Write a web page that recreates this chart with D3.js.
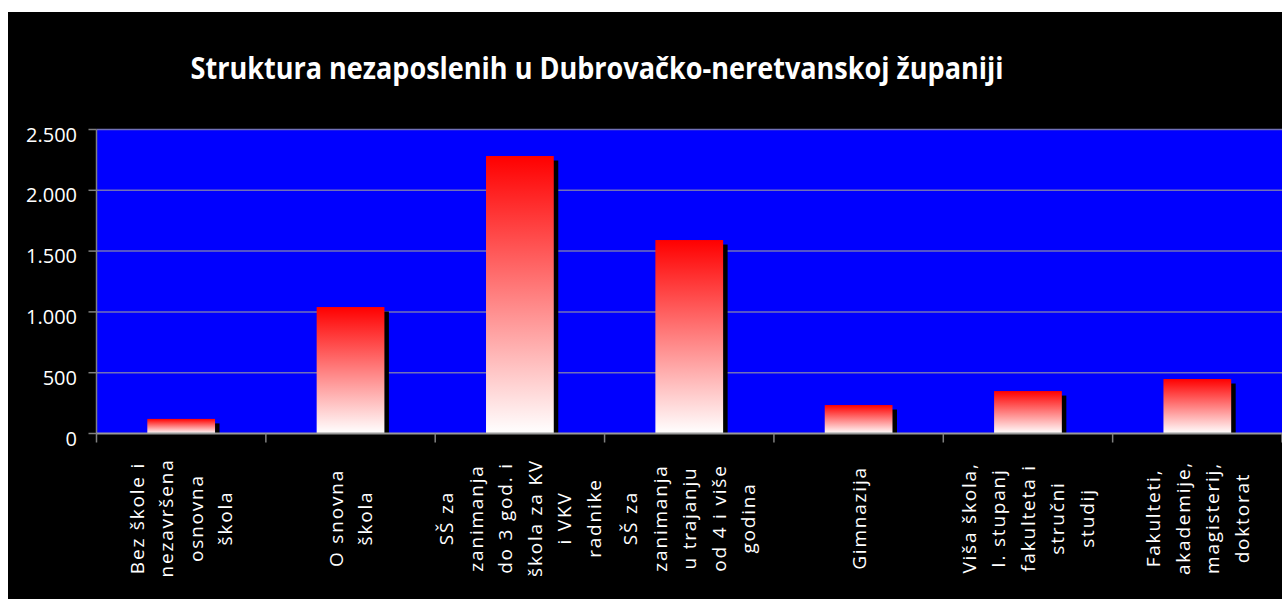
<!DOCTYPE html>
<html>
<head>
<meta charset="utf-8">
<script src="https://cdn.jsdelivr.net/npm/d3@7"></script>
<style>
	html, body { margin: 0; padding: 0; background: #fff; }
	svg { display: block; }
</style>
</head>
<body>
<div id="chart"></div>
<script>
const title = 'Struktura nezaposlenih u Dubrovačko-neretvanskoj županiji';

// label lines for each category, as they wrap in the original
const categories = [
	['Bez škole i', 'nezavršena', 'osnovna', 'škola'],
	['O snovna', 'škola'],
	['SŠ za', 'zanimanja', 'do 3 god. i', 'škola za KV', 'i VKV', 'radnike'],
	['SŠ za', 'zanimanja', 'u trajanju', 'od 4 i više', 'godina'],
	['Gimnazija'],
	['Viša škola,', 'I. stupanj', 'fakulteta i', 'stručni', 'studij'],
	['Fakulteti,', 'akademije,', 'magisterij,', 'doktorat']
];
const values = [120, 1040, 2282, 1591, 234, 349, 448];
const yTicks = [0, 500, 1000, 1500, 2000, 2500];

const chartOptions = {
	width: 1282,
	height: 599,
	plot: {left: 96.5, right: 1282, top: 129.5, bottom: 433.5}
};

const draw = (chartSelector, options) => {
	const {width, height, plot} = options;
	const svg = d3.select(chartSelector)
		.append('svg')
		.attr('width', width)
		.attr('height', height);

	// black canvas with a thin white border top/left
	svg.append('rect')
		.attr('x', 8)
		.attr('y', 12)
		.attr('width', width - 8)
		.attr('height', height - 12)
		.attr('fill', '#000');

	const xScale = d3.scaleBand()
		.domain(d3.range(categories.length))
		.range([plot.left, plot.right])
		.paddingInner(0.6)
		.paddingOuter(0.3);

	const yScale = d3.scaleLinear()
		.domain([0, 2500])
		.range([plot.bottom, plot.top]);

	_addDefs(svg);

	svg.append('rect')
		.attr('x', plot.left)
		.attr('y', plot.top)
		.attr('width', plot.right - plot.left)
		.attr('height', plot.bottom - plot.top)
		.attr('fill', '#0000ff');

	_addGrid({svg, yScale, plot});
	_addBars({svg, xScale, yScale, plot});
	_addAxes({svg, xScale, yScale, plot});
	_addLabels({svg, xScale, yScale, plot});

	svg.append('text')
		.attr('x', 597)
		.attr('y', 79)
		.attr('text-anchor', 'middle')
		.attr('textLength', 813)
		.attr('lengthAdjust', 'spacingAndGlyphs')
		.attr('fill', '#fff')
		.style('font-family', '"Liberation Sans Narrow", "Open Sans", sans-serif')
		.style('font-weight', 'bold')
		.style('font-size', '30px')
		.text(title);
};

const _addDefs = (svg) => {
	const grad = svg.append('defs')
		.append('linearGradient')
		.attr('id', 'barFill')
		.attr('x1', 0).attr('y1', 0)
		.attr('x2', 0).attr('y2', 1);
	grad.append('stop').attr('offset', '0%').attr('stop-color', '#ff0000');
	grad.append('stop').attr('offset', '100%').attr('stop-color', '#ffffff');
};

const _addGrid = ({svg, yScale, plot}) => {
	svg.append('g')
		.selectAll('line')
		.data(yTicks.filter(d => d > 0))
		.enter()
		.append('line')
		.attr('x1', plot.left)
		.attr('x2', plot.right)
		.attr('y1', d => yScale(d))
		.attr('y2', d => yScale(d))
		.attr('stroke', '#7070b8')
		.attr('stroke-width', 1.5);
};

const _addBars = ({svg, xScale, yScale, plot}) => {
	const items = svg.selectAll('.bar')
		.data(values)
		.enter()
		.append('g')
		.attr('class', 'bar');

	// drop shadow
	items.append('rect')
		.attr('x', (d, i) => xScale(i) + 4.5)
		.attr('y', d => yScale(d) + 4.5)
		.attr('width', xScale.bandwidth())
		.attr('height', d => plot.bottom - yScale(d) - 4.5)
		.attr('fill', '#000');

	items.append('rect')
		.attr('x', (d, i) => xScale(i))
		.attr('y', d => yScale(d))
		.attr('width', xScale.bandwidth())
		.attr('height', d => plot.bottom - yScale(d))
		.attr('fill', 'url(#barFill)');
};

const _addAxes = ({svg, xScale, yScale, plot}) => {
	const axisColor = '#808080';
	// y axis
	svg.append('line')
		.attr('x1', plot.left).attr('x2', plot.left)
		.attr('y1', plot.top).attr('y2', plot.bottom)
		.attr('stroke', axisColor)
		.attr('stroke-width', 1.5);
	svg.append('g')
		.selectAll('line')
		.data(yTicks)
		.enter()
		.append('line')
		.attr('x1', plot.left - 8)
		.attr('x2', plot.left)
		.attr('y1', d => yScale(d))
		.attr('y2', d => yScale(d))
		.attr('stroke', axisColor)
		.attr('stroke-width', 1.5);

	// x axis
	svg.append('line')
		.attr('x1', plot.left).attr('x2', plot.right)
		.attr('y1', plot.bottom).attr('y2', plot.bottom)
		.attr('stroke', '#9a9a9a')
		.attr('stroke-width', 2);
	const step = xScale.step();
	svg.append('g')
		.selectAll('line')
		.data(d3.range(categories.length + 1))
		.enter()
		.append('line')
		.attr('x1', i => plot.left + i * step)
		.attr('x2', i => plot.left + i * step)
		.attr('y1', plot.bottom)
		.attr('y2', plot.bottom + 9)
		.attr('stroke', axisColor)
		.attr('stroke-width', 1.5);
};

const _addLabels = ({svg, xScale, yScale, plot}) => {
	const fmt = d3.formatLocale({decimal: ',', thousands: '.', grouping: [3], currency: ['', '']}).format(',d');

	svg.append('g')
		.selectAll('text')
		.data(yTicks)
		.enter()
		.append('text')
		.attr('x', 77)
		.attr('y', d => yScale(d) + 12)
		.attr('text-anchor', 'end')
		.attr('fill', '#fff')
		.style('font-family', '"Open Sans", sans-serif')
		.style('font-size', '20px')
		.text(d => fmt(d));

	const lineGap = 29.5;
	const groups = svg.append('g')
		.selectAll('g')
		.data(categories)
		.enter()
		.append('g')
		.attr('transform', (d, i) => `translate(${xScale(i) + xScale.bandwidth() / 2}, 518) rotate(-90)`);

	groups.append('text')
		.attr('fill', '#fff')
		.attr('text-anchor', 'middle')
		.style('font-family', '"Open Sans", sans-serif')
		.style('font-size', '19px')
		.style('letter-spacing', '1.8px')
		.style('white-space', 'pre')
		.selectAll('tspan')
		.data(d => d.map((line, k) => ({line, k, n: d.length})))
		.enter()
		.append('tspan')
		.attr('x', 0)
		.attr('y', d => (d.k - (d.n - 1) / 2) * lineGap + 7)
		.text(d => d.line);
};

draw('#chart', chartOptions);
</script>
</body>
</html>
